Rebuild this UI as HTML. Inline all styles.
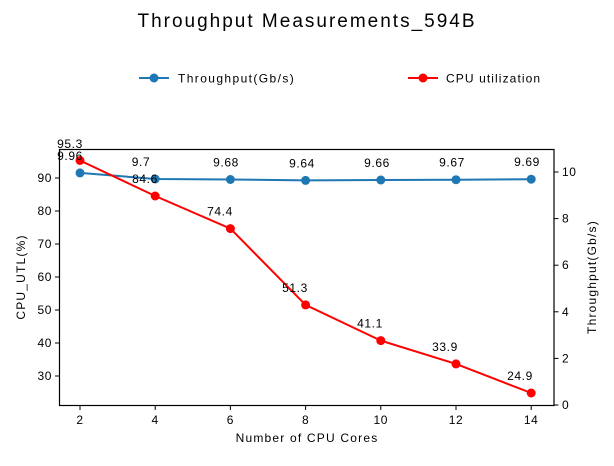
<!DOCTYPE html>
<html><head><style>body{margin:0;background:#fff}</style></head><body>
<svg width="614" height="461" xmlns="http://www.w3.org/2000/svg" font-family="Liberation Sans, DejaVu Sans, sans-serif">
<rect width="614" height="461" fill="#fff"/>
<text x="307" y="27" font-size="19" text-anchor="middle" letter-spacing="2">Throughput Measurements_594B</text>
<!-- legend -->
<line x1="139" y1="78" x2="169" y2="78" stroke="#1f77b4" stroke-width="2"/><circle cx="154" cy="78" r="4.5" fill="#1f77b4"/>
<text x="178" y="82.5" font-size="12" letter-spacing="1.4">Throughput(Gb/s)</text>
<line x1="408" y1="78" x2="438" y2="78" stroke="red" stroke-width="2"/><circle cx="423" cy="78" r="4.5" fill="red"/>
<text x="446" y="82.5" font-size="12" letter-spacing="1.1">CPU utilization</text>
<!-- axes box -->
<rect x="59.5" y="149.5" width="494.5" height="256" fill="none" stroke="#000" stroke-width="1.2"/>
<g stroke="#000" stroke-width="1">
<line x1="55" y1="178" x2="59.5" y2="178"/><line x1="55" y1="211" x2="59.5" y2="211"/><line x1="55" y1="244" x2="59.5" y2="244"/><line x1="55" y1="277" x2="59.5" y2="277"/><line x1="55" y1="310" x2="59.5" y2="310"/><line x1="55" y1="343" x2="59.5" y2="343"/><line x1="55" y1="376" x2="59.5" y2="376"/>
<line x1="554" y1="405" x2="558.5" y2="405"/><line x1="554" y1="358.4" x2="558.5" y2="358.4"/><line x1="554" y1="311.8" x2="558.5" y2="311.8"/><line x1="554" y1="265.2" x2="558.5" y2="265.2"/><line x1="554" y1="218.6" x2="558.5" y2="218.6"/><line x1="554" y1="172" x2="558.5" y2="172"/>
<line x1="80" y1="405.5" x2="80" y2="410"/><line x1="155.2" y1="405.5" x2="155.2" y2="410"/><line x1="230.4" y1="405.5" x2="230.4" y2="410"/><line x1="305.6" y1="405.5" x2="305.6" y2="410"/><line x1="380.8" y1="405.5" x2="380.8" y2="410"/><line x1="456" y1="405.5" x2="456" y2="410"/><line x1="531.2" y1="405.5" x2="531.2" y2="410"/>
</g>
<g font-size="12" text-anchor="end" letter-spacing="0.6">
<text x="52" y="182">90</text><text x="52" y="215">80</text><text x="52" y="248">70</text><text x="52" y="281">60</text><text x="52" y="314">50</text><text x="52" y="347">40</text><text x="52" y="380">30</text>
</g>
<g font-size="12" letter-spacing="0.6">
<text x="562" y="409">0</text><text x="562" y="362.4">2</text><text x="562" y="315.8">4</text><text x="562" y="269.2">6</text><text x="562" y="222.6">8</text><text x="562" y="176">10</text>
</g>
<g font-size="12" text-anchor="middle" letter-spacing="0.6">
<text x="80" y="424">2</text><text x="155.2" y="424">4</text><text x="230.4" y="424">6</text><text x="305.6" y="424">8</text><text x="380.8" y="424">10</text><text x="456" y="424">12</text><text x="531.2" y="424">14</text>
</g>
<g font-size="12" text-anchor="middle" letter-spacing="1.2">
<text x="307" y="442">Number of CPU Cores</text>
<text transform="translate(25,277) rotate(-90)">CPU_UTL(%)</text>
<text transform="translate(596,277) rotate(-90)">Throughput(Gb/s)</text>
</g>
<!-- throughput -->
<polyline fill="none" stroke="#1f77b4" stroke-width="2" points="80,172.9 155.2,179 230.4,179.5 305.6,180.4 380.8,180 456,179.7 531.2,179.2"/>
<g fill="#1f77b4"><circle cx="80" cy="172.9" r="4.5"/><circle cx="155.2" cy="179" r="4.5"/><circle cx="230.4" cy="179.5" r="4.5"/><circle cx="305.6" cy="180.4" r="4.5"/><circle cx="380.8" cy="180" r="4.5"/><circle cx="456" cy="179.7" r="4.5"/><circle cx="531.2" cy="179.2" r="4.5"/></g>
<!-- cpu -->
<polyline fill="none" stroke="red" stroke-width="2" points="80,160.5 155.2,196 230.4,228.6 305.6,304.9 380.8,340.6 456,363.9 531.2,393"/>
<g fill="red"><circle cx="80" cy="160.5" r="4.5"/><circle cx="155.2" cy="196" r="4.5"/><circle cx="230.4" cy="228.6" r="4.5"/><circle cx="305.6" cy="304.9" r="4.5"/><circle cx="380.8" cy="340.6" r="4.5"/><circle cx="456" cy="363.9" r="4.5"/><circle cx="531.2" cy="393" r="4.5"/></g>
<g font-size="12" text-anchor="middle" letter-spacing="0.6">
<text x="70" y="160">9.96</text><text x="141" y="166">9.7</text><text x="226" y="166.5">9.68</text><text x="302" y="167.4">9.64</text><text x="377" y="167">9.66</text><text x="452" y="166.7">9.67</text><text x="527" y="166.2">9.69</text>
<text x="70" y="148">95.3</text><text x="145" y="183">84.6</text><text x="220" y="215.6">74.4</text><text x="295" y="292">51.3</text><text x="370" y="327.6">41.1</text><text x="445" y="351">33.9</text><text x="520" y="380">24.9</text>
</g>
</svg>
</body></html>
